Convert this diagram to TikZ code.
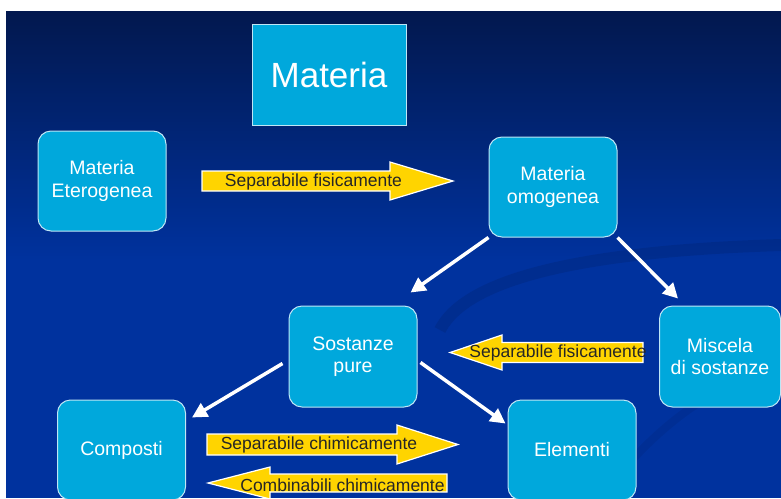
\documentclass[tikz,border=0pt]{standalone}
\usepackage{fontspec}
\setmainfont{Liberation Sans}
\usepackage{xcolor}
\usepackage{tikz}
\usetikzlibrary{arrows.meta}

\definecolor{bgtop}{RGB}{2,24,78}
\definecolor{bgbot}{RGB}{0,50,158}
\definecolor{boxfill}{RGB}{0,168,220}
\definecolor{boxline}{RGB}{190,230,245}
\definecolor{gold}{RGB}{255,212,0}

\tikzstyle{box} = [rectangle, rounded corners=13pt, minimum width=128pt, minimum height=100pt, align=center, draw=boxline, line width=1pt, fill=boxfill, text=white, font=\fontsize{19.5}{22.5}\selectfont]
\tikzstyle{mainbox} = [box, rounded corners=0pt, minimum width=154pt, minimum height=101pt, font=\fontsize{35}{40}\selectfont]
\tikzstyle{arrow} = [white, line width=3.5pt, -{Triangle[length=15pt,width=15pt]}]
\tikzstyle{bigarrow} = [fill=gold, draw=white, line width=1.2pt]
\tikzstyle{tag} = [anchor=base, inner sep=0pt, text=black!85, font=\fontsize{17.5}{20}\selectfont]

\begin{document}
\begin{tikzpicture}[x=1pt, y=-1pt]
  \useasboundingbox (0,0) rectangle (781,498);
  \clip (0,0) rectangle (781,498);

  % slide background
  \fill[white] (0,0) rectangle (781,498);
  \shade[top color=bgtop, bottom color=bgbot] (6,11) rectangle (781,260);
  \fill[bgbot] (6,259) rectangle (781,498);
  \draw[bgtop, opacity=0.18, line width=12pt] (440,330) .. controls (470,270) and (620,250) .. (781,245);
  \draw[bgtop, opacity=0.12, line width=8pt] (600,498) .. controls (660,420) and (720,380) .. (781,370);

  % boxes
  \node[mainbox] (materia) at (329,74.5) {Materia};
  \node[box] (eterog) at (102,181) {Materia\\Eterogenea};
  \node[box] (omog)   at (553,187) {Materia\\omogenea};
  \node[box, minimum height=101pt] (pure) at (353,356.5) {Sostanze\\pure};
  \node[box, minimum width=121pt, minimum height=101pt] (misc) at (720,356.5) {Miscela\\di sostanze};
  \node[box] (comp) at (121.5,450) {Composti};
  \node[box] (elem) at (572,450) {Elementi};

  % white arrows
  \draw[arrow] (omog.south west) -- ([xshift=-7pt,yshift=13pt]pure.north east);
  \draw[arrow] (omog.south east) -- ([xshift=19pt,yshift=7pt]misc.north west);
  \draw[arrow] ([xshift=-6pt,yshift=-7pt]pure.west) -- ([xshift=6pt,yshift=-18pt]comp.north east);
  \draw[arrow] ([xshift=3pt,yshift=-6pt]pure.east) -- ([xshift=-2pt,yshift=-24pt]elem.north west);

  % yellow block arrows
  \draw[bigarrow] (202,171) -- (390,171) -- (390,162) -- (453,181) -- (390,200) -- (390,191) -- (202,191) -- cycle;
  \node[tag] (sepfis) at (313.5,186) {Separabile fisicamente};

  \draw[bigarrow] (643,342.5) -- (502,342.5) -- (502,335) -- (450,352.5) -- (502,370) -- (502,362.5) -- (643,362.5) -- cycle;
  \node[tag] (sepfisb) at (558,357) {Separabile fisicamente};

  \draw[bigarrow] (207,434) -- (397,434) -- (397,425) -- (458,444.5) -- (397,464) -- (397,455) -- (207,455) -- cycle;
  \node[tag] (sepchim) at (319,449) {Separabile chimicamente};

  \draw[bigarrow] (447,474) -- (270,474) -- (270,467) -- (208,483) -- (270,499) -- (270,492) -- (447,492) -- cycle;
  \node[tag] (comb) at (342.5,491) {Combinabili chimicamente};
\end{tikzpicture}
\end{document}
